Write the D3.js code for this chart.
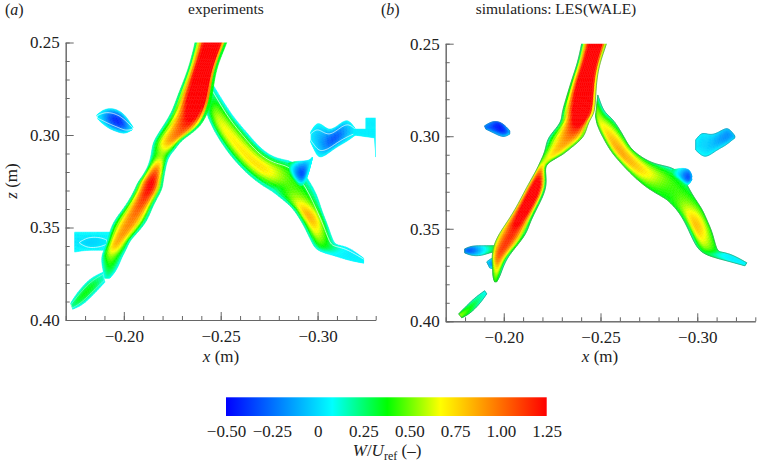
<!DOCTYPE html>
<html>
<head>
<meta charset="utf-8">
<script src="https://cdn.jsdelivr.net/npm/d3@7"></script>
<style>
body { margin: 0; background: #fff; }
text { font-family: "Liberation Serif", serif; fill: #222; }
</style>
</head>
<body>
<svg id="chart" width="757" height="468"></svg>
<script>
// cross sections, in metres:
// [x side 1, z side 1, x side 2, z side 2, W side 1, W peak, W side 2, peak position]
var expJet = [
    [-.2373,.2465,-.2539,.2465,.08,1.7,.08,.6],
    [-.2368,.2500,-.2534,.2500,.08,1.7,.08,.6],
    [-.2342,.2611,-.2487,.2611,.08,1.8,.06,.6],
    [-.2311,.2703,-.2467,.2703,.08,1.8,.06,.62],
    [-.2275,.2795,-.2456,.2795,.08,1.8,.06,.68],
    [-.2249,.2876,-.2435,.2876,.08,1.45,.08,.68],
    [-.2197,.2962,-.2394,.2962,.08,1.1,.08,.65],
    [-.2156,.3027,-.2296,.3027,.08,.95,.08,.68],
    [-.2145,.3071,-.2270,.3071,.08,.7,.08,.6],
    [-.2140,.3119,-.2228,.3119,.08,.42,.08,.55],
    [-.2119,.3190,-.2213,.3190,.08,1.05,.06,.5],
    [-.2068,.3260,-.2202,.3260,.08,1.3,.06,.55],
    [-.2057,.3298,-.2197,.3298,.08,1.25,.06,.55],
    [-.2006,.3390,-.2145,.3390,.08,1.05,.06,.55],
    [-.1938,.3476,-.2119,.3476,.06,.95,.06,.55],
    [-.1917,.3568,-.2031,.3568,.06,.9,.06,.5],
    [-.1902,.3612,-.2016,.3612,.06,.8,.08,.42],
    [-.1881,.3660,-.1990,.3660,.04,.5,.08,.45],
    [-.1892,.3731,-.1964,.3731,.08,.32,.08,.5],
    [-.1902,.3774,-.1928,.3774,.08,.14,.08,.5]
];
var expRightArm = [
    [-.2461,.2730,-.2430,.2887,.06,.25,.15,.6],
    [-.2508,.2811,-.2441,.2919,.03,.55,.08,.62],
    [-.2565,.2903,-.2472,.2990,.03,.68,.08,.62],
    [-.2637,.2990,-.2539,.3098,.03,.7,.08,.58],
    [-.2720,.3092,-.2617,.3190,.03,.74,.08,.55],
    [-.2808,.3136,-.2694,.3260,.04,.74,.08,.55],
    [-.2886,.3136,-.2782,.3314,.05,.5,.08,.6],
    [-.2990,.3298,-.2757,.3298,.08,.42,.08,.5],
    [-.3016,.3390,-.2860,.3379,.08,.72,.08,.62],
    [-.3031,.3433,-.2896,.3433,.08,.9,.08,.6],
    [-.3052,.3487,-.2928,.3487,.08,.78,.08,.58],
    [-.3078,.3568,-.2969,.3579,.08,.5,.08,.65],
    [-.3093,.3595,-.2995,.3628,.08,.35,.08,.6],
    [-.3145,.3601,-.3083,.3650,.06,.06,.06,.5],
    [-.3197,.3633,-.3155,.3677,.03,.03,.06,.5],
    [-.3238,.3666,-.3238,.3693,.07,.07,.07,.5]
];
var expBlueLobe = [
    [-.2850,.3152,-.2860,.3217,.38,.25,.38,.5],
    [-.2891,.3141,-.2891,.3265,.2,-.2,.35,.5],
    [-.2933,.3141,-.2922,.3282,.03,-.42,.25,.5],
    [-.2959,.3136,-.2948,.3233,.08,.02,.08,.5],
    [-.2974,.3119,-.2969,.3141,.08,.08,.08,.5]
];
var expUpperBlob = [
    [-.1860,.2892,-.1866,.2914,.08,.08,.08,.5],
    [-.1897,.2860,-.1892,.2941,.08,-.05,.08,.5],
    [-.1943,.2854,-.1928,.2968,.08,-.38,.08,.5],
    [-.1990,.2876,-.1969,.2984,.08,-.46,.08,.5],
    [-.2021,.2914,-.2006,.2995,.08,-.2,.08,.5],
    [-.2047,.2957,-.2042,.2973,.08,.06,.08,.5]
];
var expRightBlob = [
    [-.2964,.2984,-.2964,.3038,.08,.05,.08,.5],
    [-.2995,.2930,-.2995,.3109,.08,-.05,.08,.5],
    [-.3026,.2946,-.3016,.3125,.08,-.12,.08,.55],
    [-.3062,.2979,-.3057,.3098,.08,-.3,.08,.5],
    [-.3109,.2946,-.3098,.3065,.08,-.32,.08,.55],
    [-.3155,.2908,-.3155,.3033,.08,-.08,.08,.55],
    [-.3192,.2962,-.3202,.2995,.08,.05,.08,.5]
];
var expStrip = [
    [-.3187,.2968,-.3187,.3000,.06,.04,.06,.5],
    [-.3301,.2968,-.3301,.3017,.06,.04,.06,.5]
];
var expBlock = [
    [-.3249,.2908,-.3249,.2973,.06,.04,.06,.5],
    [-.3301,.2908,-.3301,.2973,.06,.04,.06,.5]
];
var expThinEdge = [
    [-.3296,.3017,-.3304,.3017,.06,.06,.06,.5],
    [-.3300,.3119,-.3304,.3119,.07,.07,.07,.5]
];
var expTab = [
    [-.1746,.3525,-.1746,.3633,.08,.03,.08,.5],
    [-.1798,.3525,-.1798,.3623,.08,.02,.08,.5],
    [-.1876,.3525,-.1876,.3623,.08,.03,.08,.5],
    [-.1938,.3525,-.1938,.3623,.08,.06,.08,.5]
];
var expTabCore = [
    [-.1772,.3579,-.1772,.3585,.03,.03,.03,.5],
    [-.1814,.3552,-.1814,.3612,.03,-.03,.03,.5],
    [-.1876,.3552,-.1876,.3606,.03,.0,.03,.5],
    [-.1912,.3568,-.1912,.3590,.04,.04,.04,.5]
];
var expLowerBlob = [
    [-.1892,.3742,-.1902,.3796,.08,.12,.08,.5],
    [-.1824,.3774,-.1850,.3855,.07,.38,.07,.55],
    [-.1757,.3855,-.1788,.3920,.07,.38,.07,.5],
    [-.1726,.3909,-.1736,.3942,.08,.2,.08,.5]
];

var lesJet = [
    [-.2408,.2469,-.2537,.2469,.08,1.7,.35,.6],
    [-.2403,.2500,-.2532,.2500,.08,1.7,.35,.6],
    [-.2382,.2604,-.2496,.2604,.1,1.8,.4,.65],
    [-.2351,.2696,-.2480,.2696,.2,1.9,.4,.65],
    [-.2325,.2788,-.2475,.2788,.25,1.9,.4,.7],
    [-.2300,.2874,-.2470,.2874,.15,1.7,.4,.72],
    [-.2300,.2912,-.2444,.2912,.15,1.5,.4,.72],
    [-.2274,.2955,-.2429,.2955,.15,1.2,.4,.7],
    [-.2227,.3009,-.2413,.3009,.1,.95,.4,.65],
    [-.2217,.3063,-.2346,.3063,.2,.85,.4,.6],
    [-.2206,.3101,-.2305,.3101,.35,.75,.4,.55],
    [-.2186,.3144,-.2222,.3144,.4,.55,.4,.5],
    [-.2170,.3182,-.2212,.3182,.5,.9,.3,.45],
    [-.2119,.3274,-.2227,.3274,.5,1.6,.08,.5],
    [-.2067,.3382,-.2175,.3382,.6,1.5,.15,.5],
    [-.2015,.3468,-.2134,.3468,.6,1.3,.2,.5],
    [-.1979,.3522,-.2119,.3522,.55,1.15,.1,.5],
    [-.1948,.3587,-.2072,.3587,.5,1.15,.4,.5],
    [-.1938,.3652,-.2020,.3652,.4,1.1,.1,.4],
    [-.1943,.3711,-.1995,.3711,.35,.75,.08,.45],
    [-.1943,.3760,-.1979,.3760,.35,.5,.2,.5],
    [-.1953,.3787,-.1963,.3787,.4,.4,.4,.5]
];
var lesRightArm = [
    [-.2486,.2777,-.2475,.2890,.08,.45,.3,.7],
    [-.2517,.2874,-.2480,.2934,.06,.62,.35,.75],
    [-.2563,.2901,-.2506,.2993,.15,.72,.35,.72],
    [-.2625,.3009,-.2548,.3074,.3,.88,.35,.65],
    [-.2656,.3074,-.2594,.3133,.35,.88,.35,.6],
    [-.2755,.3144,-.2677,.3225,.25,.78,.35,.6],
    [-.2832,.3160,-.2755,.3290,.1,.58,.35,.5],
    [-.2910,.3182,-.2832,.3333,.08,.42,.35,.5],
    [-.2972,.3317,-.2858,.3355,.35,.45,.35,.5],
    [-.3023,.3387,-.2910,.3414,.35,.65,.3,.6],
    [-.3049,.3452,-.2951,.3495,.35,.88,.15,.6],
    [-.3080,.3522,-.2977,.3560,.35,.72,.08,.62],
    [-.3101,.3625,-.3013,.3625,.35,.5,.3,.55],
    [-.3127,.3625,-.3075,.3652,.07,.1,.35,.4],
    [-.3184,.3641,-.3153,.3673,.06,.03,.06,.5],
    [-.3256,.3684,-.3246,.3700,.08,.06,.08,.5]
];
var lesBlueLobe = [
    [-.2868,.3182,-.2884,.3225,.3,.25,.35,.5],
    [-.2920,.3171,-.2920,.3252,.08,-.1,.35,.5],
    [-.2961,.3177,-.2951,.3274,-.1,-.42,.3,.5],
    [-.2972,.3214,-.2972,.3236,-.1,-.1,-.1,.5]
];
var lesUpperBlob = [
    [-.1901,.2944,-.1907,.2961,-.1,-.2,-.1,.5],
    [-.1932,.2923,-.1948,.2982,-.15,-.32,-.05,.5],
    [-.1969,.2917,-.1979,.2998,-.35,-.48,-.05,.4],
    [-.2005,.2939,-.2005,.3004,-.2,-.42,.0,.5],
    [-.2031,.2971,-.2031,.2988,0,-.1,.05,.5]
];
var lesRightBlob = [
    [-.2992,.3020,-.2992,.3074,.08,.05,.08,.5],
    [-.3023,.2977,-.3029,.3112,.05,-.02,.08,.5],
    [-.3060,.2993,-.3060,.3106,.04,-.03,.08,.5],
    [-.3096,.2988,-.3101,.3074,.02,-.1,.07,.5],
    [-.3137,.2961,-.3142,.3052,.0,-.18,.05,.5],
    [-.3163,.2955,-.3168,.3031,-.05,-.18,.02,.5],
    [-.3194,.2998,-.3194,.3009,-.02,-.05,.0,.5]
];
var lesTab = [
    [-.1798,.3609,-.1798,.3630,-.15,-.2,-.15,.5],
    [-.1834,.3592,-.1834,.3646,-.1,-.35,.0,.5],
    [-.1886,.3592,-.1886,.3646,.05,0,.08,.5],
    [-.1938,.3592,-.1938,.3625,.3,.22,.35,.5],
    [-.1963,.3592,-.1963,.3625,.38,.4,.38,.5]
];
var lesBump = [
    [-.1912,.3679,-.1927,.3711,.08,.0,.08,.5],
    [-.1938,.3657,-.1958,.3722,.0,-.28,.1,.5],
    [-.1963,.3657,-.1974,.3711,.3,.2,.3,.5]
];
var lesLowerBlob = [
    [-.1901,.3835,-.1912,.3852,.08,.08,.08,.5],
    [-.1850,.3873,-.1876,.3906,.1,.25,.12,.5],
    [-.1798,.3927,-.1824,.3960,.15,.42,.3,.5],
    [-.1767,.3960,-.1783,.3981,.4,.55,.4,.5]
];

// colour bar
var colorValues = [-0.5, 0.08, 0.38, 0.67, 0.96, 1.25];
var colorList = ['#0000ff', '#00ffff', '#00ff00', '#ffff00', '#ff8000', '#ff0000'];
var barTicks = [-0.5, -0.25, 0, 0.25, 0.5, 0.75, 1, 1.25];
var xMajor = [-0.2, -0.25, -0.3];
var zMajor = [0.25, 0.3, 0.35, 0.4];
var xMinor = d3.range(17, 34).map(function (d) { return -d / 100; });
var zMinor = d3.range(25, 41).map(function (d) { return d / 100; });

var svg = d3.select('#chart');
var color = d3.scaleLinear().domain(colorValues).range(colorList).clamp(true);

var defs = svg.append('defs');
defs.append('filter').attr('id', 'soft')
    .attr('x', '-5%').attr('y', '-5%').attr('width', '110%').attr('height', '110%')
    .append('feGaussianBlur').attr('stdDeviation', 0.45);

function fmtTick(d) {
    return d === 0 ? '0' : d3.format('.2f')(d).replace('-', '\u2013');
}

// one patch: a mesh of small cells between the cross sections
function drawPatch(g, sections, x, z, opts) {
    opts = opts || {};
    var col = d3.range(8).map(function (i) {
        return d3.interpolateBasis(sections.map(function (s) { return s[i]; }));
    });
    var nS = (sections.length - 1) * 6, nT = 14;

    function at(si, t) {
        var s = si / nS;
        var m = col[7](s);
        var u = t < m ? t / m : (1 - t) / (1 - m);
        var edge = t < m ? col[4](s) : col[6](s);
        return {
            px: x(col[0](s) + (col[2](s) - col[0](s)) * t),
            py: z(col[1](s) + (col[3](s) - col[1](s)) * t),
            v: edge + (col[5](s) - edge) * (1 - (1 - u) * (1 - u))
        };
    }

    var cells = [];
    d3.range(nS).forEach(function (i) {
        d3.range(nT).forEach(function (j) {
            cells.push([at(i, j / nT), at(i + 1, j / nT), at(i + 1, (j + 1) / nT), at(i, (j + 1) / nT)]);
        });
    });

    var line = d3.line().x(function (d) { return d.px; }).y(function (d) { return d.py; });
    g.append('g').selectAll('path').data(cells).join('path')
        .attr('d', function (c) { return line(c) + 'Z'; })
        .attr('fill', function (c) { return color(d3.mean(c, function (p) { return p.v; })); })
        .attr('stroke', function (c) { return color(d3.mean(c, function (p) { return p.v; })); })
        .attr('stroke-width', 0.5);

    function side(t) {
        return d3.range(nS + 1).map(function (i) { return at(i, t); });
    }
    // thin contour lines
    if (opts.outline) {
        g.append('path')
            .attr('d', line(side(0).concat(side(1).reverse())) + 'Z')
            .attr('fill', 'none').attr('stroke', opts.outline)
            .attr('stroke-width', 0.8).attr('stroke-opacity', 0.85);
    }
    if (opts.contour !== undefined) {
        var pts = opts.open ? side(opts.contour) : side(opts.contour).concat(side(1 - opts.contour).reverse());
        g.append('path')
            .attr('d', line(pts) + (opts.open ? '' : 'Z'))
            .attr('fill', 'none').attr('stroke', '#fff')
            .attr('stroke-width', 0.9).attr('stroke-opacity', opts.alpha || 0.75);
    }
}

function drawPanel(id, xRange, zRange, patches) {
    var x = d3.scaleLinear().domain([-0.17, -0.33]).range(xRange);
    var z = d3.scaleLinear().domain([0.25, 0.4]).range(zRange);

    defs.append('clipPath').attr('id', id)
        .append('rect')
        .attr('x', xRange[0]).attr('y', zRange[0])
        .attr('width', xRange[1] - xRange[0]).attr('height', zRange[1] - zRange[0]);

    var field = svg.append('g').attr('clip-path', 'url(#' + id + ')')
        .append('g').attr('filter', 'url(#soft)');
    patches.forEach(function (p) { drawPatch(field, p[0], x, z, p[1]); });

    var xAxis = svg.append('g').attr('transform', 'translate(0,' + zRange[1] + ')');
    var zAxis = svg.append('g').attr('transform', 'translate(' + xRange[0] + ',0)');

    xAxis.append('g').call(d3.axisBottom(x).tickValues(xMinor).tickSize(-4).tickSizeOuter(0).tickFormat(''));
    xAxis.append('g').call(d3.axisBottom(x).tickValues(xMajor).tickSize(-8).tickSizeOuter(0).tickPadding(10).tickFormat(fmtTick));
    zAxis.append('g').call(d3.axisLeft(z).tickValues(zMinor).tickSize(-4).tickSizeOuter(0).tickFormat(''));
    zAxis.append('g').call(d3.axisLeft(z).tickValues(zMajor).tickSize(-8).tickSizeOuter(0).tickPadding(6).tickFormat(d3.format('.2f')));

    svg.selectAll('.domain, .tick line').attr('stroke', '#666').attr('stroke-width', 1);
    svg.selectAll('.tick text').attr('font-family', '"Liberation Serif", serif').attr('font-size', 17).attr('fill', '#222');
    return x;
}

var xA = drawPanel('panelA', [65.7, 375.7], [42.5, 320], [
    [expTab], [expTabCore, { contour: 0 }],
    [expLowerBlob, { contour: 0.2, alpha: 0.35 }],
    [expRightArm, { contour: 0.18, open: true, alpha: 0.8 }], [expJet],
    [expBlueLobe],
    [expUpperBlob, { contour: 0.22 }],
    [expRightBlob, { contour: 0.2 }],
    [expStrip], [expBlock], [expThinEdge]
]);
var xB = drawPanel('panelB', [445.7, 755.3], [43.7, 321.3], [
    [lesTab, { outline: '#2f9a86' }], [lesBump, { outline: '#2f8f9a' }],
    [lesLowerBlob, { outline: '#2f9a70' }],
    [lesRightArm, { outline: '#3c9a5c' }], [lesJet, { outline: '#3c9a5c' }],
    [lesBlueLobe],
    [lesUpperBlob, { outline: '#2a7fc0' }],
    [lesRightBlob, { outline: '#2a9ab0' }]
]);

// titles
function label(x, y, size, parts, anchor) {
    var t = svg.append('text').attr('x', x).attr('y', y).attr('font-size', size).attr('text-anchor', anchor || 'middle');
    parts.forEach(function (p) {
        var s = t.append('tspan').text(p[0]);
        if (p[1]) s.attr('font-style', 'italic');
    });
    return t;
}
label(5, 15, 16, [['('], ['a', true], [')']], 'start');
label(226, 14, 15.5, [['experiments']]);
label(381, 15, 16, [['('], ['b', true], [')']], 'start');
label(556, 14, 15.5, [['simulations: LES(WALE)']]);
label(221, 362, 17, [['x', true], [' (m)']]);
label(600, 362, 17, [['x', true], [' (m)']]);
label(0, 0, 17, [['z', true], [' (m)']]).attr('transform', 'translate(17,181) rotate(-90)');

// colour bar
var barX = d3.scaleLinear().domain([-0.5, 1.25]).range([226, 546.7]);
var grad = defs.append('linearGradient').attr('id', 'barFill');
grad.selectAll('stop').data(colorValues).join('stop')
    .attr('offset', function (d) { return (d + 0.5) / 1.75; })
    .attr('stop-color', function (d, i) { return colorList[i]; });
svg.append('rect').attr('x', barX(-0.5)).attr('y', 397.3)
    .attr('width', barX(1.25) - barX(-0.5)).attr('height', 18.7)
    .attr('fill', 'url(#barFill)');
var barAxis = svg.append('g').attr('transform', 'translate(0,416)')
    .call(d3.axisBottom(barX).tickValues(barTicks).tickSize(0).tickPadding(9).tickFormat(fmtTick));
barAxis.select('.domain').remove();
barAxis.selectAll('text').attr('font-family', '"Liberation Serif", serif').attr('font-size', 17).attr('fill', '#222');

var barTitle = label(387, 456, 17, [['W', true], ['/'], ['U', true]]);
barTitle.append('tspan').text('ref').attr('font-size', 12).attr('dy', 4);
barTitle.append('tspan').text(' (\u2013)').attr('dy', -4);
</script>
</body>
</html>
